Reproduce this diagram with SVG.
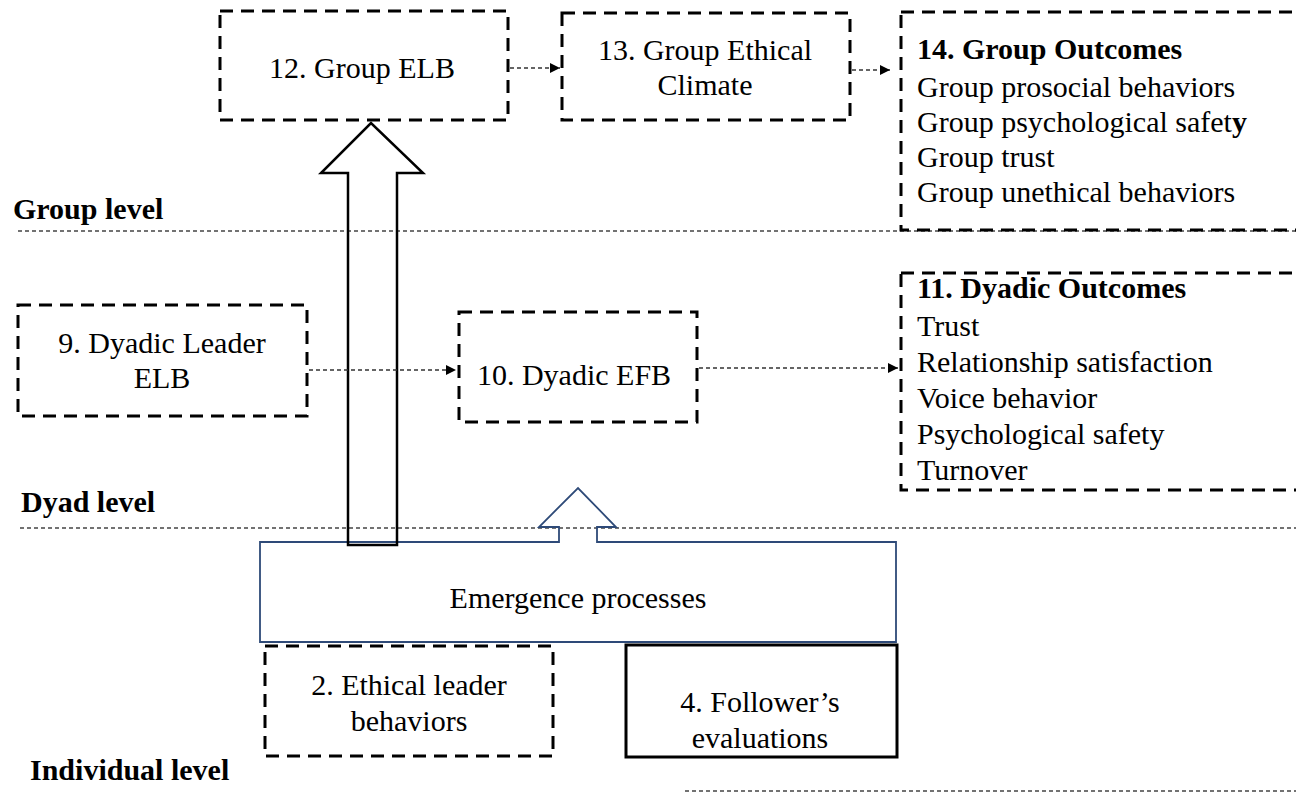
<svg xmlns="http://www.w3.org/2000/svg" width="1296" height="793" viewBox="0 0 1296 793">
<style>
text{font-family:"Liberation Serif","Times New Roman",serif;font-size:30px;fill:#000}
.b{font-weight:bold}
.c{text-anchor:middle}
.box{fill:none;stroke:#000;stroke-width:3;stroke-dasharray:13 8}
.solid{fill:none;stroke:#000;stroke-width:3}
.lvl{fill:none;stroke:#444;stroke-width:1.5;stroke-dasharray:4 3}
.con{fill:none;stroke:#333;stroke-width:1.5;stroke-dasharray:4 3}
</style>
<defs>
<marker id="ah" markerUnits="userSpaceOnUse" markerWidth="10" markerHeight="10" viewBox="0 0 10 10" refX="10" refY="5" orient="auto">
<path d="M0,0 L10,5 L0,10 Z" fill="#000"/>
</marker>
</defs>
<rect width="1296" height="793" fill="#fff"/>
<g id="levels">
<line class="lvl" x1="18" y1="231" x2="1296" y2="231"/>
<line class="lvl" x1="20" y1="528" x2="1296" y2="528"/>
<line class="lvl" x1="685" y1="791" x2="1296" y2="791"/>
<text class="b" x="13" y="219">Group level</text>
<text class="b" x="21" y="512">Dyad level</text>
<text class="b" x="30" y="780">Individual level</text>
</g>
<g id="n12">
<rect class="box" x="220" y="11" width="288" height="109"/>
<text class="c" x="362" y="78">12. Group ELB</text>
</g>
<g id="n13">
<rect class="box" x="562" y="13" width="288" height="107"/>
<text class="c" x="705" y="60">13. Group Ethical</text>
<text class="c" x="705" y="95">Climate</text>
</g>
<g id="n14">
<rect class="box" x="901" y="12" width="420" height="218"/>
<text class="b" x="917" y="59">14. Group Outcomes</text>
<text x="917" y="97">Group prosocial behaviors</text>
<text x="917" y="132">Group psychological safet<tspan class="b">y</tspan></text>
<text x="917" y="167">Group trust</text>
<text x="917" y="202">Group unethical behaviors</text>
</g>
<g id="n9">
<rect class="box" x="18" y="305" width="289" height="111"/>
<text class="c" x="162" y="353">9. Dyadic Leader</text>
<text class="c" x="162" y="388">ELB</text>
</g>
<g id="n10">
<rect class="box" x="459" y="312" width="238" height="110"/>
<text class="c" x="574" y="385">10. Dyadic EFB</text>
</g>
<g id="n11">
<rect class="box" x="901" y="273" width="420" height="217"/>
<text class="b" x="917" y="298">11. Dyadic Outcomes</text>
<text x="917" y="336">Trust</text>
<text x="917" y="372">Relationship satisfaction</text>
<text x="917" y="408">Voice behavior</text>
<text x="917" y="444">Psychological safety</text>
<text x="917" y="480">Turnover</text>
</g>
<g id="emergence">
<path d="M260,542 H559 V527 H539 L578,488 L616,527 H597 V542 H896 V642 H260 Z" fill="none" stroke="#2E4A78" stroke-width="1.8"/>
<text class="c" x="578" y="608">Emergence processes</text>
</g>
<g id="bigarrow">
<path d="M348,545 V173 H321 L371,123 L423,173 H397 V545 Z" fill="none" stroke="#000" stroke-width="2.5"/>
</g>
<g id="n2">
<rect class="box" x="265" y="646" width="288" height="110"/>
<text class="c" x="409" y="695">2. Ethical leader</text>
<text class="c" x="409" y="731">behaviors</text>
</g>
<g id="n4">
<rect class="solid" x="626" y="645" width="271" height="112"/>
<text class="c" x="760" y="712">4. Follower’s</text>
<text class="c" x="760" y="748">evaluations</text>
</g>
<g id="connectors">
<line class="con" x1="510" y1="68" x2="560" y2="68" marker-end="url(#ah)"/>
<line class="con" x1="852" y1="70" x2="890" y2="70" marker-end="url(#ah)"/>
<line class="con" x1="309" y1="370" x2="456" y2="370" marker-end="url(#ah)"/>
<line class="con" x1="699" y1="368" x2="898" y2="368" marker-end="url(#ah)"/>
</g>
</svg>
